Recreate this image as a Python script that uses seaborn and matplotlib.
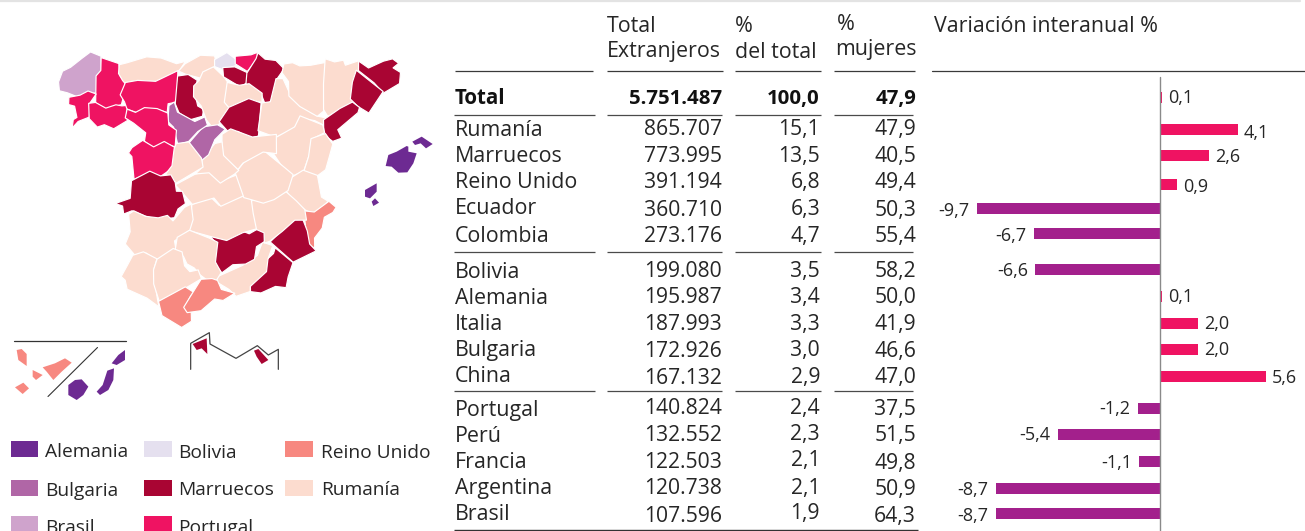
import math
import matplotlib
matplotlib.use("Agg")
import matplotlib.pyplot as plt
from matplotlib.patches import Polygon, Rectangle
import pandas as pd
import seaborn as sns

# ---------- data ----------
countries = ["Total", "Rumanía", "Marruecos", "Reino Unido", "Ecuador", "Colombia", "Bolivia", "Alemania",
             "Italia", "Bulgaria", "China", "Portugal", "Perú", "Francia", "Argentina", "Brasil"]
total_extranjeros = [5751487, 865707, 773995, 391194, 360710, 273176, 199080, 195987,
                     187993, 172926, 167132, 140824, 132552, 122503, 120738, 107596]
pct_del_total = [100.0, 15.1, 13.5, 6.8, 6.3, 4.7, 3.5, 3.4, 3.3, 3.0, 2.9, 2.4, 2.3, 2.1, 2.1, 1.9]
pct_mujeres = [47.9, 47.9, 40.5, 49.4, 50.3, 55.4, 58.2, 50.0, 41.9, 46.6, 47.0, 37.5, 51.5, 49.8, 50.9, 64.3]
variacion = [0.1, 4.1, 2.6, 0.9, -9.7, -6.7, -6.6, 0.1, 2.0, 2.0, 5.6, -1.2, -5.4, -1.1, -8.7, -8.7]

legend_names = [["Alemania", "Bolivia", "Reino Unido"], ["Bulgaria", "Marruecos", "Rumanía"], ["Brasil", "Portugal"]]
group_colors = {"Alemania": "#6D2A92", "Bolivia": "#E5E0EF", "Reino Unido": "#F78880", "Bulgaria": "#B066A6",
                "Marruecos": "#A90533", "Rumanía": "#FCDCCF", "Brasil": "#CFA3CC", "Portugal": "#EF1362"}

mainland = {
 "A Coruña": ("Brasil", [(180,125),(192,95),(215,85),(245,60),(270,40),(300,52),(300,95),(290,110),(288,155),(258,158),(238,168),(205,155),(182,150)]),
 "Lugo": ("Portugal", [(305,57),(355,75),(358,112),(372,125),(370,155),(362,190),(345,195),(320,205),(290,185),(292,110),(305,95)]),
 "Pontevedra": ("Portugal", [(210,175),(240,170),(262,157),(285,165),(265,192),(265,228),(235,240),(218,260),(222,235),(232,228),(228,200),(210,195)]),
 "Ourense": ("Portugal", [(270,192),(290,190),(320,208),(345,198),(362,200),(385,197),(375,215),(378,240),(340,262),(315,250),(295,258),(272,235)]),
 "Asturias": ("Rumanía", [(362,75),(385,70),(440,55),(480,57),(525,72),(552,65),(535,90),(465,125),(415,122),(385,135),(372,120),(360,100)]),
 "Cantabria": ("Rumanía", [(560,72),(600,50),(640,50),(645,75),(600,110),(560,100),(540,92)]),
 "León": ("Portugal", [(380,130),(415,125),(465,128),(530,95),(528,185),(500,190),(498,215),(470,205),(435,205),(415,215),(385,205),(378,185),(365,165)]),
 "Palencia": ("Marruecos", [(535,112),(565,108),(590,125),(582,165),(590,195),(607,205),(605,225),(570,235),(540,215),(530,190)]),
 "Burgos": ("Rumanía", [(640,85),(670,115),(680,130),(672,185),(685,200),(665,240),(640,262),(620,235),(607,195),(585,170),(585,140),(600,125),(610,100)]),
 "Bizkaia": ("Bolivia", [(648,60),(680,42),(705,60),(705,75),(670,85),(648,78)]),
 "Gipuzkoa": ("Portugal", [(710,50),(750,48),(768,40),(768,55),(742,90),(710,70)]),
 "Álava": ("Marruecos", [(672,85),(705,85),(740,100),(738,125),(720,137),(675,110)]),
 "Navarra": ("Marruecos", [(775,43),(795,62),(825,65),(848,88),(825,118),(815,180),(795,187),(785,160),(742,130),(745,100),(770,60)]),
 "La Rioja": ("Rumanía", [(685,130),(720,140),(745,135),(782,160),(782,185),(745,180),(690,200),(677,185)]),
 "Soria": ("Marruecos", [(690,205),(745,180),(780,192),(772,285),(750,292),(715,270),(695,280),(662,245)]),
 "Zaragoza": ("Rumanía", [(790,190),(815,187),(830,120),(850,120),(870,165),(895,200),(950,228),(985,235),(970,255),(940,240),(900,232),(880,262),(830,288),(778,270)]),
 "Huesca": ("Rumanía", [(855,75),(880,72),(900,82),(930,80),(975,70),(970,135),(968,210),(950,225),(900,195),(870,165),(870,125),(850,100)]),
 "Lleida": ("Rumanía", [(978,60),(1005,70),(1030,65),(1035,80),(1075,65),(1075,90),(1060,130),(1055,185),(1020,205),(985,225),(973,205),(975,130)]),
 "Girona": ("Marruecos", [(1080,65),(1110,85),(1150,68),(1175,60),(1192,72),(1175,85),(1197,97),(1195,128),(1150,155),(1125,125),(1080,92)]),
 "Barcelona": ("Marruecos", [(1070,95),(1145,155),(1105,215),(1075,195),(1055,175),(1060,130)]),
 "Tarragona": ("Marruecos", [(975,240),(1020,210),(1055,190),(1075,205),(1070,220),(1015,265),(1025,290),(1000,300),(975,282)]),
 "Teruel": ("Rumanía", [(830,295),(885,265),(900,232),(965,258),(970,280),(930,300),(925,340),(910,390),(875,405),(845,370),(825,340)]),
 "Castellón": ("Rumanía", [(935,300),(975,285),(995,315),(985,345),(975,385),(950,405),(915,390),(930,350)]),
 "Valencia": ("Rumanía", [(910,395),(950,410),(960,470),(980,482),(945,520),(915,505),(885,480),(860,450),(862,425)]),
 "Alicante": ("Reino Unido", [(985,488),(1005,505),(995,520),(970,535),(965,560),(945,590),(945,620),(925,610),(915,515),(945,520)]),
 "Murcia": ("Marruecos", [(880,545),(905,537),(918,575),(925,610),(945,630),(880,662),(815,605),(850,572)]),
 "Almería": ("Marruecos", [(825,628),(875,670),(860,710),(855,740),(825,735),(785,755),(755,752),(755,730),(795,695),(800,665),(820,645)]),
 "Granada": ("Rumanía", [(655,710),(730,680),(770,650),(785,610),(815,620),(800,660),(795,695),(750,735),(750,750),(710,765),(690,745),(655,725)]),
 "Jaén": ("Marruecos", [(635,590),(680,600),(720,575),(745,585),(770,570),(792,580),(790,605),(765,620),(760,655),(735,668),(700,670),(668,695),(645,665),(652,610)]),
 "Albacete": ("Rumanía", [(755,485),(820,478),(855,458),(885,485),(910,510),(915,540),(880,540),(845,570),(810,600),(795,605),(795,575),(770,565),(755,515)]),
 "Ciudad Real": ("Rumanía", [(580,495),(635,475),(660,500),(720,465),(750,480),(755,520),(765,565),(725,575),(680,597),(630,585),(570,570)]),
 "Toledo": ("Rumanía", [(530,435),(590,405),(630,398),(660,425),(710,405),(730,465),(660,495),(640,470),(580,490),(545,450)]),
 "Cuenca": ("Rumanía", [(710,400),(735,370),(790,335),(850,385),(875,405),(860,450),(820,475),(790,485),(755,475),(735,470)]),
 "Guadalajara": ("Rumanía", [(670,285),(695,270),(755,295),(825,285),(825,340),(785,335),(730,365),(715,385),(670,345)]),
 "Madrid": ("Rumanía", [(610,360),(645,315),(665,310),(668,350),(712,390),(700,400),(660,425),(630,395),(590,400),(612,380)]),
 "Segovia": ("Bulgaria", [(570,310),(610,265),(650,258),(672,270),(640,300),(625,340),(605,358),(585,330)]),
 "Valladolid": ("Bulgaria", [(510,200),(525,190),(535,220),(580,245),(610,232),(618,255),(590,272),(565,300),(535,310),(525,260),(508,245)]),
 "Zamora": ("Portugal", [(385,210),(410,220),(435,207),(470,210),(500,222),(502,255),(525,270),(522,318),(490,305),(462,320),(435,300),(440,275),(405,250),(380,235)]),
 "Salamanca": ("Portugal", [(400,325),(430,305),(460,325),(490,308),(522,325),(522,370),(510,385),(470,412),(445,395),(405,415),(400,350),(390,340)]),
 "Ávila": ("Rumanía", [(530,315),(565,310),(600,355),(605,380),(530,425),(500,400),(520,375),(525,330)]),
 "Cáceres": ("Marruecos", [(398,425),(450,398),(480,412),(510,408),(522,430),(525,455),(543,455),(552,490),(530,505),(520,530),(470,535),(440,525),(400,510),(375,520),(372,497),(350,490),(395,475)]),
 "Badajoz": ("Rumanía", [(390,525),(405,515),(440,532),(475,538),(500,530),(515,545),(550,505),(570,495),(575,540),(565,570),(520,600),(525,625),(470,655),(440,635),(410,645),(380,610),(395,575)]),
 "Córdoba": ("Rumanía", [(535,595),(570,575),(630,600),(650,610),(642,665),(660,695),(645,720),(625,720),(600,700),(585,680),(565,670),(555,650),(530,630)]),
 "Huelva": ("Rumanía", [(400,650),(430,640),(468,660),(458,690),(460,725),(470,775),(475,797),(440,770),(385,745),(380,720),(368,710),(385,680)]),
 "Sevilla": ("Rumanía", [(475,660),(520,630),(545,640),(550,680),(565,695),(590,690),(600,715),(555,740),(480,780),(465,730),(465,690)]),
 "Cádiz": ("Reino Unido", [(480,785),(555,745),(578,760),(570,770),(550,800),(570,815),(572,840),(545,858),(490,825)]),
 "Málaga": ("Reino Unido", [(605,722),(635,720),(650,725),(660,750),(700,760),(665,780),(640,775),(605,808),(565,815),(555,800),(575,770)]),
}
islands = {
 "Mallorca": ("Alemania", [(1220,318),(1225,320),(1225,335),(1250,340),(1240,370),(1222,397),(1195,398),(1175,380),(1157,378),(1165,345),(1190,335)]),
 "Menorca": ("Alemania", [(1237,305),(1265,290),(1298,312),(1278,325),(1262,310),(1245,315)]),
 "Ibiza": ("Alemania", [(1095,450),(1130,430),(1130,455),(1110,475),(1095,470)]),
 "Formentera": ("Alemania", [(1115,485),(1125,475),(1137,488),(1120,498)]),
}
inset = {
 "Tenerife": ("Reino Unido", [(128,112),(165,100),(195,85),(215,98),(185,125),(160,150),(140,125)]),
 "La Gomera": ("Reino Unido", [(98,120),(128,135),(108,150),(98,140)]),
 "La Palma": ("Reino Unido", [(50,60),(65,57),(80,72),(80,108),(55,90)]),
 "El Hierro": ("Reino Unido", [(45,172),(70,158),(87,175),(68,192)]),
 "Gran Canaria": ("Alemania", [(205,165),(225,150),(245,148),(265,170),(250,195),(230,210),(205,195)]),
 "Fuerteventura": ("Alemania", [(322,122),(342,115),(340,150),(325,180),(300,195),(290,185),(308,165)]),
 "Lanzarote": ("Alemania", [(335,100),(355,75),(375,60),(375,90),(350,105)]),
 "Ceuta": ("Marruecos", [(578,42),(620,25),(622,72),(605,55),(590,60)]),
 "Melilla": ("Marruecos", [(762,62),(775,57),(805,90),(785,102),(770,80)]),
}
inset_frame = [(572,118),(572,40),(628,8),(630,42),(708,85),(772,47),(805,75),(835,58),(835,118)]

# ---------- layout (pixels) ----------
W, H = 1305, 531
name_base = [104,135.7,161.7,187.7,214,242.3,277.7,304,330,356,381.7,416,441.7,468.3,494.3,520]
total_base = [104,135,161.7,188.3,215.7,241.7,277.3,303.3,330,356.7,384,414.3,441,467.7,494.3,521.7]
share_base = [104,135,161.7,188,215,241.7,276.7,303,330,356,383,413.7,440.3,466,493.7,519.3]
women_base = [104,135,161.7,188.3,216,241.7,277,303.3,330,356.7,383.5,414.7,441.3,469,495,521.7]
bar_y = [97,129,155.7,184.3,208.3,233.3,269,296,323,349,376,408.3,434.7,461.3,488.3,513.3]
label_base = [103.3,138.3,161.7,191.7,215.7,241,275.5,302,329,355,383,414,440,468,495,520.7]
FONT = "Open Sans"
TXT = "#262626"
sns.set_style("white")
plt.rcParams["font.family"] = [FONT, "DejaVu Sans"]

fig = plt.figure(figsize=(W/100, H/100), dpi=100)
ax = fig.add_axes([0, 0, 1, 1])
ax.set_xlim(0, W); ax.set_ylim(H, 0); ax.axis("off")

# top rule
ax.plot([0, 1300], [0.6, 0.6], color="#e3e3e3", lw=1.6, clip_on=False)


def grown(pts, d):
    """Push each outline vertex d pixels away from the shape's centre so neighbours meet."""
    cx = sum(p[0] for p in pts) / len(pts)
    cy = sum(p[1] for p in pts) / len(pts)
    out = []
    for x, y in pts:
        r = math.hypot(x - cx, y - cy) or 1
        out.append((x + (x - cx) / r * d, y + (y - cy) / r * d))
    return out


# map: neighbours overlap slightly, and the white edge of the later one draws the border
for name, (grp, pts) in mainland.items():
    ax.add_patch(Polygon(grown([(x/3, y/3+40) for x, y in pts], 1.5), closed=True, fc=group_colors[grp],
                         ec="white", lw=0.85, joinstyle="round"))
for name, (grp, pts) in islands.items():
    ax.add_patch(Polygon([(x/3, y/3+40) for x, y in pts], closed=True, fc=group_colors[grp], ec="none"))
for name, (grp, pts) in inset.items():
    ax.add_patch(Polygon([(x/3, y/3+330) for x, y in pts], closed=True, fc=group_colors[grp], ec="none"))
ax.plot([14, 126], [341, 341], color="#333333", lw=0.9)
ax.plot([48, 97.5], [396.5, 347.5], color="#333333", lw=0.8)
ax.plot([x/3 for x, y in inset_frame], [y/3+330 for x, y in inset_frame], color="#444444", lw=0.9)

# legend
sw_x = [(11, 38), (144, 172), (285, 313)]
txt_x = [45, 178, 321]
leg_y = [(441, 457), (480, 496), (516, 535)]
txt_leg_base = [[456.7, 458.3, 458.3], [495.7, 495, 495], [533, 533]]
for r, row in enumerate(legend_names):
    for c, nm in enumerate(row):
        ax.add_patch(Rectangle((sw_x[c][0], leg_y[r][0]), sw_x[c][1]-sw_x[c][0], leg_y[r][1]-leg_y[r][0],
                               fc=group_colors[nm], ec="none"))
        ax.text(txt_x[c], txt_leg_base[r][c], nm, fontsize=13.8, color=TXT, va="baseline", ha="left")

# table headers
hdr = dict(fontsize=15.4, color=TXT, va="baseline", ha="left")
ax.text(607, 31.7, "Total", **hdr); ax.text(607, 57.3, "Extranjeros", **hdr)
ax.text(735, 31.7, "%", **hdr); ax.text(735, 58.3, "del total", **hdr)
ax.text(837, 30, "%", **hdr); ax.text(835, 55, "mujeres", **hdr)
ax.text(934, 31.7, "Variación interanual %", **hdr)

# rules
head_cols = [(455, 592.5), (607, 722.5), (735, 821), (834, 915)]
body_cols = [(454, 595), (607, 721.7), (735, 821), (834, 913)]
for a, b in head_cols:
    ax.plot([a, b], [71, 71], color="#3a3a3a", lw=0.9, solid_capstyle="butt")
for yy in [115, 252.3, 390.7]:
    for a, b in body_cols:
        ax.plot([a, b], [yy, yy], color="#4a4a4a", lw=0.9, solid_capstyle="butt")
ax.plot([454, 918], [530, 530], color="#333333", lw=1.0, solid_capstyle="butt")
ax.plot([932, 1305], [71, 71], color="#3a3a3a", lw=0.9)

# table body
def fmt_int(v):
    return f"{v:,}".replace(",", ".")
def fmt_dec(v):
    return f"{v:.1f}".replace(".", ",")
for i, c in enumerate(countries):
    bold = i == 0
    col = "#111111" if bold else TXT
    nkw = dict(color=col, va="baseline", fontweight="bold" if bold else "normal")
    ax.text(455, name_base[i], c, ha="left", fontsize=14.8 if bold else 15.4, **nkw)
    fs = 14.7 if bold else 15.2
    ax.text(722, total_base[i], fmt_int(total_extranjeros[i]), ha="right", fontsize=fs, **nkw)
    ax.text(820, share_base[i], fmt_dec(pct_del_total[i]), ha="right", fontsize=fs, **nkw)
    ax.text(916, women_base[i], fmt_dec(pct_mujeres[i]), ha="right", fontsize=fs, **nkw)

# bars
PX_PER_UNIT = 18.9
X0 = 1160.2
AL, AR = 932, 1305
bax = fig.add_axes([AL/W, 0, (AR-AL)/W, 1])
bax.patch.set_alpha(0)
df = pd.DataFrame({"var": variacion, "row": bar_y,
                   "sign": ["pos" if v > 0 else "neg" for v in variacion]})
sns.barplot(data=df, x="var", y="row", hue="sign", orient="y", native_scale=True, dodge=False,
            palette={"pos": "#EF1362", "neg": "#A3208C"}, width=11/24, legend=False, saturation=1,
            linewidth=0, edgecolor="none", ax=bax)
bax.set_xlim((AL-X0)/PX_PER_UNIT, (AR-X0)/PX_PER_UNIT)
bax.set_ylim(H, 0)
bax.axis("off")
bax.axvline(-0.03, ymin=0, ymax=1-77/H, color="#8a8a8a", lw=1.0, zorder=5)
for v, yy in zip(variacion, label_base):
    bax.annotate(fmt_dec(v), (v, yy), xytext=(4.5 if v > 0 else -5.5, 0), textcoords="offset points",
                 ha="left" if v > 0 else "right", va="baseline", fontsize=13, color=TXT)

fig.savefig("out.png", dpi=100)
